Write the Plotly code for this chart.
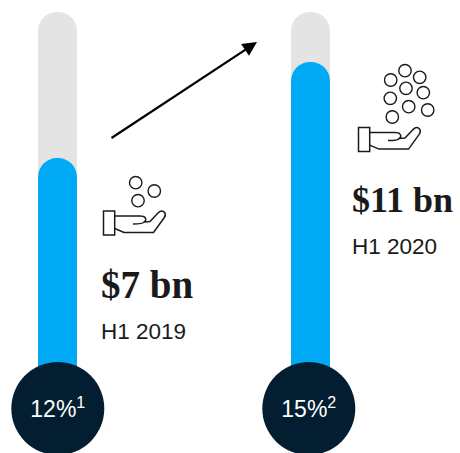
import plotly.graph_objects as go

# Data
periods = ["H1 2019", "H1 2020"]
values_bn = [7, 11]
value_labels = ["$7 bn", "$11 bn"]
share_labels = ["12%<sup>1</sup>", "15%<sup>2</sup>"]
track_top = 13.08
bar_base = -3.5
bar_x = [57.5, 310.5]
circle_x = [57.8, 308.8]
circle_y = [408.5, 408.5]
share_label_y = [411.5, 411.5]

GREY = "#e4e4e4"
BLUE = "#00aaf5"
NAVY = "#031e30"
INK = "#1a1a1a"

left_coins = [(135.7, 182.7), (154.3, 191), (138, 200.7)]
right_coins = [(405, 70.7), (419.7, 77.3), (390.7, 80), (406, 88.3), (423.3, 92.7),
               (390.3, 98.3), (408.7, 106.7), (427.7, 110), (392.3, 117)]
hand_offsets = [(0, 0), (255, -83.4)]


def hand_path(dx, dy):
    pts = lambda x, y: f"{x + dx:.1f},{y + dy:.1f}"
    return (
        f"M{pts(114.7, 216)} L{pts(140, 216)} "
        f"Q{pts(144, 216)} {pts(145, 217.5)} "
        f"Q{pts(147, 220)} {pts(144, 222)} Q{pts(143, 224)} {pts(133, 224)} "
        f"M{pts(144, 222)} L{pts(150, 221.5)} L{pts(158, 213)} "
        f"Q{pts(162, 209)} {pts(165, 213)} Q{pts(166, 215)} {pts(164, 218)} "
        f"L{pts(153.5, 232.5)} L{pts(124, 232.5)} L{pts(114.7, 228.5)}"
    )


fig = go.Figure()
fig.add_trace(go.Bar(x=bar_x, y=[track_top - bar_base] * 2, base=bar_base, width=39,
                     marker=dict(color=GREY, cornerradius=19.5, line_width=0),
                     hoverinfo="skip", showlegend=False))
fig.add_trace(go.Bar(x=bar_x, y=[v - bar_base for v in values_bn], base=bar_base, width=39,
                     marker=dict(color=BLUE, cornerradius=19.5, line_width=0),
                     hovertext=periods, showlegend=False))
fig.add_trace(go.Scatter(x=circle_x, y=circle_y, yaxis="y2", mode="markers",
                         marker=dict(size=93, color=NAVY, line_width=0),
                         cliponaxis=False, showlegend=False, hoverinfo="skip"))
fig.add_trace(go.Scatter(x=circle_x, y=share_label_y, yaxis="y2", mode="text",
                         text=share_labels, textposition="middle center",
                         textfont=dict(family="Liberation Sans", size=23, color="white"),
                         cliponaxis=False, showlegend=False, hoverinfo="skip"))

shapes = []
for (cx, cy) in left_coins + right_coins:
    shapes.append(dict(type="circle", xref="x", yref="y2", x0=cx - 6.2, x1=cx + 6.2,
                       y0=cy - 6.2, y1=cy + 6.2, line=dict(color=INK, width=1.4)))
for dx, dy in hand_offsets:
    shapes.append(dict(type="rect", xref="x", yref="y2", x0=103.5 + dx, x1=114.7 + dx,
                       y0=211 + dy, y1=235 + dy, line=dict(color=INK, width=1.5)))
    shapes.append(dict(type="path", xref="x", yref="y2", path=hand_path(dx, dy),
                       line=dict(color=INK, width=1.5)))

annotations = [
    dict(x=257, y=42, ax=110, ay=139, xref="x", yref="y2", axref="x", ayref="y2",
         text="", showarrow=True, arrowhead=2, arrowsize=1.3, arrowwidth=2.2, arrowcolor="black"),
]
text_pos = [(101, 284, 101, 331, 39), (352, 200, 352, 246, 36)]
for lab, per, (x1, y1, x2, y2, fs) in zip(value_labels, periods, text_pos):
    annotations.append(dict(x=x1, y=y1, xref="x", yref="y2", xanchor="left", yanchor="middle",
                            text=f"<b>{lab}</b>", showarrow=False, xshift=-2,
                            font=dict(family="Liberation Serif", size=fs, color=INK)))
    annotations.append(dict(x=x2, y=y2, xref="x", yref="y2", xanchor="left", yanchor="middle",
                            text=per, showarrow=False, xshift=-2,
                            font=dict(family="Liberation Sans", size=22.5, color=INK)))

fig.update_layout(
    width=460, height=453, margin=dict(l=0, r=0, t=0, b=0),
    paper_bgcolor="white", plot_bgcolor="white", barmode="overlay", showlegend=False,
    xaxis=dict(range=[0, 460], visible=False, fixedrange=True),
    yaxis=dict(range=[-5.29, 13.58], visible=False, fixedrange=True),
    yaxis2=dict(range=[453, 0], visible=False, overlaying="y", fixedrange=True),
    shapes=shapes, annotations=annotations,
)
fig.write_html("out.html", config=dict(displayModeBar=False),
               post_script="document.body.style.margin='0';document.body.style.overflow='hidden';")
